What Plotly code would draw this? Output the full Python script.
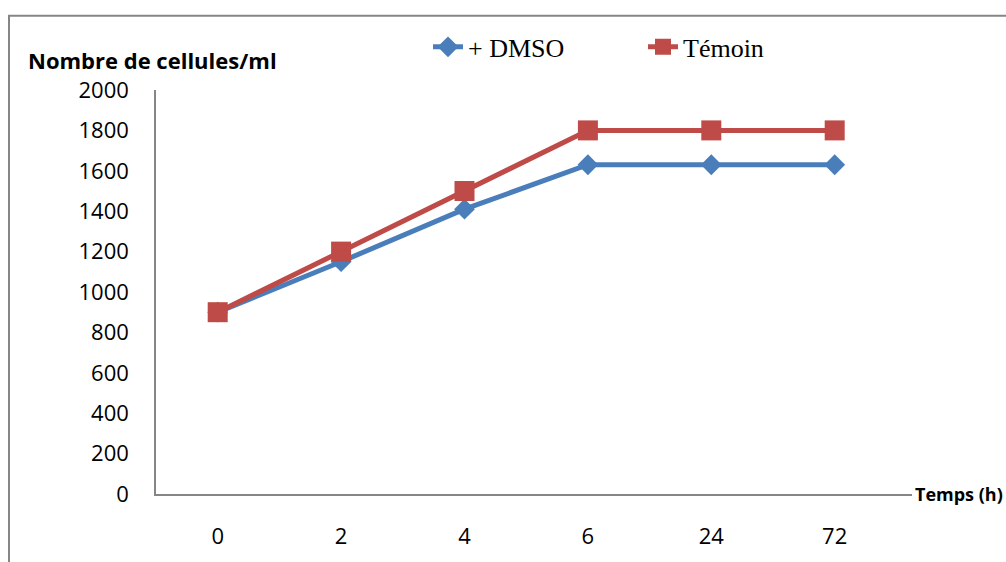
import plotly.graph_objects as go

# Temps d'incubation (h) et nombre de cellules/ml
temps = ["0", "2", "4", "6", "24", "72"]
dmso = [900, 1150, 1410, 1630, 1630, 1630]
temoin = [900, 1200, 1500, 1800, 1800, 1800]
y_ticks = list(range(0, 2001, 200))

BLUE = "#4A7EBB"
RED = "#BE4B48"
AXIS = "#868686"
SANS = "Open Sans"

fig = go.Figure()
fig.add_trace(go.Scatter(
    x=temps, y=dmso, name="+ DMSO", mode="lines+markers",
    line=dict(color=BLUE, width=5),
    marker=dict(symbol="diamond", size=16, color=BLUE),
))
fig.add_trace(go.Scatter(
    x=temps, y=temoin, name="Témoin", mode="lines+markers",
    line=dict(color=RED, width=5),
    marker=dict(symbol="square", size=20, color=RED),
))

W, H = 1006, 562
L, R, T, B = 156, 94, 90, 59
pw, ph = W - L - R, H - T - B
slot = 123.4  # pixel width of one category slot
x_end = pw / slot - 0.5

def px(x):
    return (x - L) / pw

def py(y):
    return (H - B - y) / ph

fig.update_layout(
    width=W, height=H,
    margin=dict(l=L, r=R, t=T, b=B),
    paper_bgcolor="white", plot_bgcolor="white",
    font=dict(family=SANS, size=22, color="black"),
    showlegend=True,
    legend=dict(
        orientation="h", x=px(428), xanchor="left", y=py(46), yanchor="middle",
        font=dict(family="Liberation Serif", size=26, color="black"),
        entrywidth=170, entrywidthmode="pixels",
        bgcolor="rgba(0,0,0,0)",
    ),
    xaxis=dict(
        type="category", range=[-0.5, x_end],
        showgrid=False, zeroline=False,
        showline=True, linecolor=AXIS, linewidth=1.5,
        ticks="", ticklabelstandoff=22,
        tickfont=dict(family=SANS, size=22),
    ),
    yaxis=dict(
        range=[0, 2000], tickvals=y_ticks,
        showgrid=False, zeroline=False,
        showline=True, linecolor=AXIS, linewidth=1.5,
        ticks="", ticklabelstandoff=21,
        tickfont=dict(family=SANS, size=22),
    ),
    annotations=[
        dict(text="<b>Nombre de cellules/ml</b>", xref="paper", yref="paper",
             x=px(26), y=py(59), xanchor="left", yanchor="middle",
             showarrow=False, font=dict(family=SANS, size=22)),
        dict(text="<b>Temps (h)</b>", xref="paper", yref="paper",
             x=px(1005), y=py(503), xanchor="right", yanchor="middle",
             showarrow=False, font=dict(family=SANS, size=18)),
    ],
    shapes=[
        dict(type="rect", xref="paper", yref="paper",
             x0=px(9), x1=px(1040), y0=py(600), y1=py(14),
             line=dict(color=AXIS, width=2), layer="below"),
    ],
)

fig.write_html("out.html")
